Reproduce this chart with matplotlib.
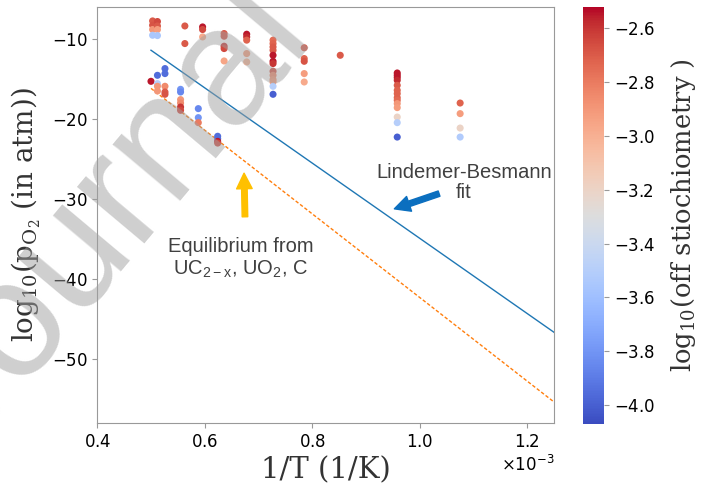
import numpy as np
import matplotlib
matplotlib.use('Agg')
import matplotlib.pyplot as plt
from matplotlib.ticker import MultipleLocator

plt.rcParams['mathtext.fontset'] = 'custom'
plt.rcParams['mathtext.rm'] = 'DejaVu Serif'
plt.rcParams['mathtext.it'] = 'DejaVu Serif:italic'
plt.rcParams['mathtext.sf'] = 'Liberation Sans'
plt.rcParams['axes.formatter.use_mathtext'] = True

# measured points: 1/T (x1e-3 1/K), log10(pO2), log10(off stoichiometry)
inv_t = [0.503, 0.503, 0.503, 0.503,
         0.512, 0.512, 0.512, 0.512,
         0.563, 0.563,
         0.596, 0.596, 0.596,
         0.636, 0.636, 0.636, 0.636, 0.636,
         0.678, 0.678, 0.678, 0.678, 0.678,
         0.727, 0.727, 0.727, 0.727, 0.727, 0.727, 0.727, 0.727, 0.727, 0.727, 0.727, 0.727, 0.727,
         0.785, 0.785, 0.785, 0.785, 0.785,
         0.852,
         0.958, 0.958, 0.958, 0.958, 0.958, 0.958, 0.958, 0.958, 0.958, 0.958, 0.958, 0.958, 0.958, 0.958,
         1.075, 1.075, 1.075, 1.075,
         # low pO2 group
         0.500,
         0.512, 0.512, 0.512, 0.512,
         0.526, 0.526, 0.526, 0.526, 0.526,
         0.555, 0.555, 0.555, 0.555, 0.555, 0.555,
         0.588, 0.588, 0.588,
         0.624, 0.624, 0.624, 0.624]
log_po2 = [-7.8, -8.34, -8.875, -9.59,
           -7.875, -8.43, -8.875, -9.63,
           -8.43, -10.625,
           -8.55, -8.875, -9.8,
           -9.375, -9.71, -10.96, -11.25, -12.8,
           -9.46, -9.8, -10.2, -11.875, -12.925,
           -10.2, -10.625, -11.05, -11.46, -12.09, -12.84, -13.125, -14.09, -14.59, -15.125, -15.425, -15.96, -16.96,
           -11.15, -12.5, -12.84, -14.375, -15.425,
           -12.09,
           -14.3, -14.59, -14.875, -15.21, -15.84, -16.46, -16.875, -17.375, -17.71, -18.125, -18.625, -19.8, -20.5, -22.3,
           -18.05, -19.375, -21.175, -22.3,
           -15.34,
           -14.59, -15.625, -15.96, -16.55,
           -13.75, -14.375, -15.96, -16.675, -16.96,
           -16.34, -16.675, -17.625, -18.05, -18.55, -18.96,
           -18.75, -19.875, -20.5,
           -22.2, -22.5, -22.84, -23.05]
log_dev = [-2.7, -2.68, -2.9, -3.55,
           -2.65, -2.7, -2.92, -3.55,
           -2.7, -2.7,
           -2.55, -2.65, -2.98,
           -2.7, -2.68, -2.6, -2.65, -2.95,
           -2.55, -2.58, -2.72, -2.92, -3.02,
           -2.75, -2.72, -2.7, -2.7, -2.55, -2.55, -2.6, -2.68, -2.85, -2.9, -2.92, -3.5, -4.0,
           -2.7, -2.72, -2.68, -2.92, -2.98,
           -2.7,
           -2.55, -2.55, -2.55, -2.58, -2.7, -2.72, -2.72, -2.72, -2.75, -2.9, -2.92, -3.2, -3.5, -4.0,
           -2.72, -2.92, -3.2, -3.52,
           -2.55,
           -3.95, -3.5, -2.9, -2.9,
           -3.95, -3.95, -2.85, -2.7, -2.68,
           -3.8, -3.85, -2.9, -2.85, -2.6, -2.65,
           -3.85, -3.8, -2.8,
           -3.95, -3.95, -2.55, -2.65]

# linear fits log10(pO2) = a + b / T
lb_a, lb_b = 12.03, -46980.0
eq_a, eq_b = 9.90, -52240.0
fit_range = [0.5e-3, 1.3e-3]

fig = plt.figure(figsize=(7.02, 4.93), dpi=100)
ax = fig.add_axes([0.1385, 0.142, 0.651, 0.8448])
cax = fig.add_axes([0.830, 0.140, 0.0303, 0.8465])

x = np.array(inv_t) * 1e-3
sc = ax.scatter(x, log_po2, c=log_dev, cmap='coolwarm', vmin=-4.07, vmax=-2.52,
                s=26, edgecolors='none', zorder=3)

xf = np.array(fit_range)
ax.plot(xf, lb_a + lb_b * xf, color='#1f77b4', lw=1.0, zorder=2)
ax.plot(xf, eq_a + eq_b * xf, color='#ff7f0e', lw=1.0, ls=(0, (2.5, 1.5)), zorder=2)

ax.set_xlim(0.4e-3, 1.25e-3)
ax.set_ylim(-58, -6)
ax.xaxis.set_major_locator(MultipleLocator(0.2e-3))
ax.yaxis.set_major_locator(MultipleLocator(10))
ax.ticklabel_format(axis='x', style='sci', scilimits=(0, 0))

for sp in ax.spines.values():
    sp.set_color('#999999')
ax.tick_params(colors='#999999', labelcolor='black', labelsize=12)
ax.xaxis.get_offset_text().set_fontsize(12)

ax.set_xlabel('1/T (1/K)', family='DejaVu Serif', fontsize=21, color='#333333')
ax.set_ylabel(r'$\mathrm{log_{10}(p_{O_2}}$ (in atm))', family='DejaVu Serif',
              fontsize=20, color='#333333', labelpad=6)

note = dict(family='Liberation Sans', fontsize=14.5, color='#404040', ha='center', va='center')
ax.text(1.082e-3, -27.96, 'Lindemer-Besmann\nfit', linespacing=1.1, **note)
ax.text(0.6669e-3, -37.46, 'Equilibrium from\nUC$_{\\mathsf{2-x}}$, UO$_{\\mathsf{2}}$, C',
        linespacing=1.2, **note)

ax.annotate('', xy=(0.9477e-3, -31.375), xytext=(1.0407e-3, -29.25),
            arrowprops=dict(arrowstyle='simple,head_length=0.7,head_width=0.7,tail_width=0.25',
                            color='#0b6fbf', mutation_scale=16))
ax.annotate('', xy=(0.673e-3, -26.46), xytext=(0.6749e-3, -32.6),
            arrowprops=dict(arrowstyle='simple,head_length=0.7,head_width=0.7,tail_width=0.25',
                            color='#ffc000', mutation_scale=16))

cb = fig.colorbar(sc, cax=cax)
cb.set_ticks([-2.6, -2.8, -3.0, -3.2, -3.4, -3.6, -3.8, -4.0])
cb.ax.tick_params(labelsize=12, colors='#999999', labelcolor='black')
cb.outline.set_visible(False)
cb.set_label(r'$\mathrm{log_{10}}$(off stiochiometry )', family='DejaVu Serif',
             fontsize=18.5, color='#333333', labelpad=10)

# pre-proof watermark
fig.text(-0.0501, 0.0726, 'Journal Pre-proof', family='Liberation Sans', fontsize=120,
         color='#a0a0a0', alpha=0.5, rotation=50, rotation_mode='anchor',
         ha='left', va='baseline', zorder=10)

fig.savefig('out.png', dpi=100)
